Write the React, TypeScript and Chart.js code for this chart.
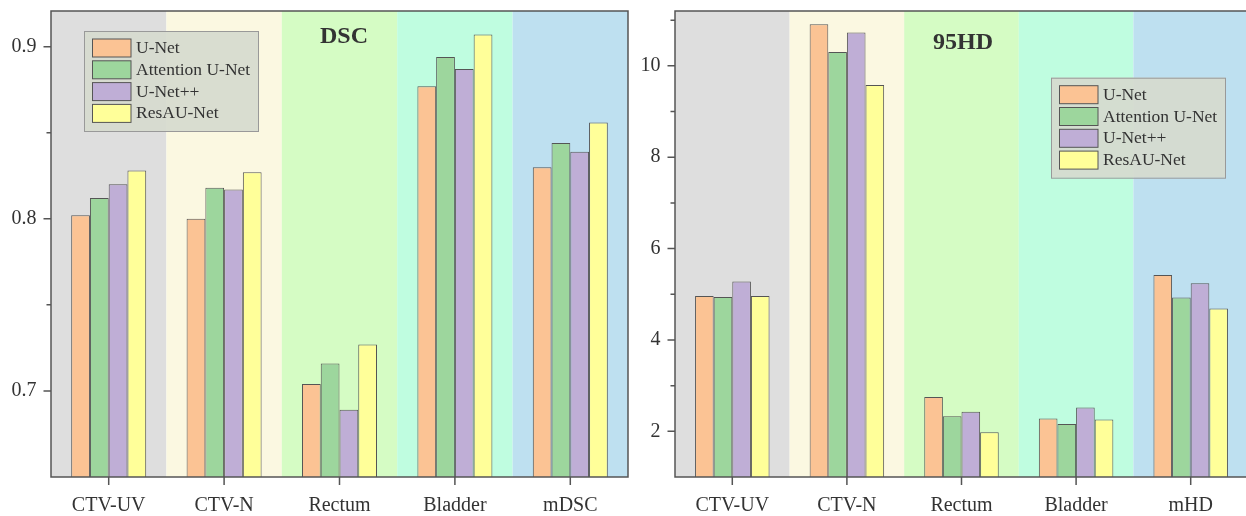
import React, { useEffect, useRef } from "react";
import { Chart, registerables } from "chart.js";

Chart.register(...registerables);

const DSC_CATEGORIES = ["CTV-UV", "CTV-N", "Rectum", "Bladder", "mDSC"];
const HD_CATEGORIES = ["CTV-UV", "CTV-N", "Rectum", "Bladder", "mHD"];
const SERIES_NAMES = ["U-Net", "Attention U-Net", "U-Net++", "ResAU-Net"];

const DSC_UNET = [0.802, 0.8, 0.704, 0.877, 0.83];
const DSC_ATT = [0.812, 0.818, 0.716, 0.894, 0.844];
const DSC_UNETPP = [0.82, 0.817, 0.689, 0.887, 0.839];
const DSC_RESAU = [0.828, 0.827, 0.727, 0.907, 0.856];

const HD_UNET = [4.96, 10.91, 2.75, 2.28, 5.42];
const HD_ATT = [4.94, 10.3, 2.33, 2.16, 4.93];
const HD_UNETPP = [5.28, 10.73, 2.43, 2.52, 5.24];
const HD_RESAU = [4.96, 9.58, 1.98, 2.26, 4.69];

const DSC_MAJOR_TICKS = [0.7, 0.8, 0.9];
const DSC_MINOR_TICKS = [0.75, 0.85];
const HD_MAJOR_TICKS = [2, 4, 6, 8, 10];
const HD_MINOR_TICKS = [3, 5, 7, 9, 11];

const SERIES_COLORS = ["#fbc394", "#9dd69d", "#bfaed6", "#ffff99"];
const BAND_COLORS = ["#dedede", "#fbf8e1", "#d5fcc4", "#bffde0", "#bee0f0"];

const FONT = '"Liberation Serif", "Times New Roman", serif';
const AXIS_COLOR = "#555";
const TEXT_COLOR = "#333";

type PanelSpec = {
  categories: string[];
  series: number[][];
  min: number;
  max: number;
  major: number[];
  minor: number[];
  decimals: number;
  yWidth: number;
  padRight: number;
  title: string;
  titleX: number;
  titleY: number;
  legendDx: number;
  legendDy: number;
};

function makeConfig(spec: PanelSpec): any {
  const overlay = {
    id: "overlay",
    beforeDatasetsDraw(chart: any) {
      const { ctx, chartArea, scales } = chart;
      const x = scales.x;
      const w = (chartArea.right - chartArea.left) / spec.categories.length;
      ctx.save();
      spec.categories.forEach((_, i) => {
        const c = x.getPixelForValue(i);
        ctx.fillStyle = BAND_COLORS[i];
        ctx.fillRect(c - w / 2, chartArea.top, w, chartArea.bottom - chartArea.top);
      });
      ctx.restore();
    },
    afterDraw(chart: any) {
      const { ctx, chartArea, scales } = chart;
      const x = scales.x;
      const y = scales.y;
      ctx.save();
      ctx.strokeStyle = AXIS_COLOR;
      ctx.lineWidth = 1.5;
      ctx.strokeRect(chartArea.left, chartArea.top, chartArea.right - chartArea.left, chartArea.bottom - chartArea.top);
      ctx.beginPath();
      spec.major.forEach((v) => {
        const py = y.getPixelForValue(v);
        ctx.moveTo(chartArea.left - 7.5, py);
        ctx.lineTo(chartArea.left, py);
      });
      spec.minor.forEach((v) => {
        const py = y.getPixelForValue(v);
        ctx.moveTo(chartArea.left - 4.5, py);
        ctx.lineTo(chartArea.left, py);
      });
      spec.categories.forEach((_, i) => {
        const px = x.getPixelForValue(i);
        ctx.moveTo(px, chartArea.bottom);
        ctx.lineTo(px, chartArea.bottom + 8);
      });
      ctx.stroke();

      // title
      ctx.fillStyle = TEXT_COLOR;
      ctx.font = `bold 24px ${FONT}`;
      ctx.textAlign = "left";
      ctx.textBaseline = "alphabetic";
      ctx.fillText(spec.title, spec.titleX, spec.titleY);

      // legend
      const bx = chartArea.left + spec.legendDx;
      const by = chartArea.top + spec.legendDy;
      const bw = 174;
      const bh = 100;
      ctx.fillStyle = "rgba(214,218,206,0.92)";
      ctx.fillRect(bx, by, bw, bh);
      ctx.strokeStyle = "#999";
      ctx.lineWidth = 1;
      ctx.strokeRect(bx + 0.5, by + 0.5, bw, bh);
      ctx.font = `17.5px ${FONT}`;
      ctx.textBaseline = "middle";
      SERIES_NAMES.forEach((name, i) => {
        const sy = by + 8 + i * 21.8;
        ctx.fillStyle = SERIES_COLORS[i];
        ctx.fillRect(bx + 8.5, sy, 38.5, 18);
        ctx.strokeStyle = AXIS_COLOR;
        ctx.lineWidth = 1;
        ctx.strokeRect(bx + 8.5, sy, 38.5, 18);
        ctx.fillStyle = TEXT_COLOR;
        ctx.fillText(name, bx + 52, sy + 9.5);
      });
      ctx.restore();
    },
  };

  return {
    type: "bar",
    data: {
      labels: spec.categories,
      datasets: spec.series.map((vals, i) => ({
        label: SERIES_NAMES[i],
        data: vals,
        backgroundColor: SERIES_COLORS[i],
        borderColor: AXIS_COLOR,
        borderWidth: 1,
        categoryPercentage: 0.65,
        barPercentage: 1,
      })),
    },
    options: {
      animation: false,
      responsive: false,
      maintainAspectRatio: false,
      layout: { padding: { left: 0, right: spec.padRight, top: 11, bottom: 0 } },
      plugins: { legend: { display: false }, tooltip: { enabled: false }, title: { display: false } },
      scales: {
        x: {
          grid: { display: true, drawOnChartArea: false, drawTicks: true, tickLength: 8, color: "transparent" },
          border: { display: false },
          ticks: { font: { family: FONT, size: 20 }, color: TEXT_COLOR, padding: 9, maxRotation: 0 },
          afterFit(scale: any) {
            scale.height = 39;
            scale.paddingLeft = 0;
            scale.paddingRight = 0;
          },
        },
        y: {
          min: spec.min,
          max: spec.max,
          grid: { display: true, drawOnChartArea: false, drawTicks: true, tickLength: 7.5, color: "transparent" },
          border: { display: false },
          afterBuildTicks(scale: any) {
            scale.ticks = spec.major.map((v) => ({ value: v }));
          },
          ticks: {
            font: { family: FONT, size: 20 },
            color: TEXT_COLOR,
            padding: 7,
            callback: (v: any) => Number(v).toFixed(spec.decimals),
          },
          afterFit(scale: any) {
            scale.width = spec.yWidth;
            scale.paddingTop = 0;
            scale.paddingBottom = 0;
          },
        },
      },
    },
    plugins: [overlay],
  };
}

function Panel({ spec, left, width }: { spec: PanelSpec; left: number; width: number }) {
  const ref = useRef<HTMLCanvasElement | null>(null);
  useEffect(() => {
    if (!ref.current) return;
    const chart = new Chart(ref.current, makeConfig(spec));
    return () => chart.destroy();
  }, []);
  return (
    <canvas
      ref={ref}
      width={width}
      height={516}
      style={{ position: "absolute", left, top: 0, width, height: 516 }}
    />
  );
}

const DSC_SPEC: PanelSpec = {
  categories: DSC_CATEGORIES,
  series: [DSC_UNET, DSC_ATT, DSC_UNETPP, DSC_RESAU],
  min: 0.65,
  max: 0.9207,
  major: DSC_MAJOR_TICKS,
  minor: DSC_MINOR_TICKS,
  decimals: 1,
  yWidth: 51,
  padRight: 8,
  title: "DSC",
  titleX: 320,
  titleY: 43,
  legendDx: 33,
  legendDy: 20,
};

const HD_SPEC: PanelSpec = {
  categories: HD_CATEGORIES,
  series: [HD_UNET, HD_ATT, HD_UNETPP, HD_RESAU],
  min: 1,
  max: 11.2,
  major: HD_MAJOR_TICKS,
  minor: HD_MINOR_TICKS,
  decimals: 0,
  yWidth: 39,
  padRight: 2,
  title: "95HD",
  titleX: 297,
  titleY: 49,
  legendDx: 376,
  legendDy: 66.7,
};

export default function App() {
  return (
    <div
      style={{
        position: "fixed",
        left: 0,
        top: 0,
        width: 1246,
        height: 516,
        overflow: "hidden",
        background: "#fff",
      }}
    >
      <Panel spec={DSC_SPEC} left={0} width={636} />
      <Panel spec={HD_SPEC} left={636} width={614} />
    </div>
  );
}
